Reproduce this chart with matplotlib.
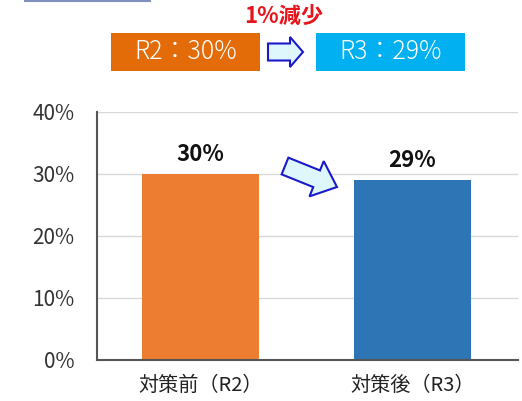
import matplotlib
matplotlib.use("Agg")
import matplotlib.pyplot as plt
from matplotlib.patches import Rectangle, FancyArrow
from matplotlib.ticker import PercentFormatter

categories = ["対策前（R2）", "対策後（R3）"]
values = [30, 29]
bar_colors = ["#ED7D31", "#2E75B6"]
value_labels = ["30%", "29%"]
yticks = [0, 10, 20, 30, 40]

plt.rcParams["font.family"] = ["Noto Sans CJK JP", "DejaVu Sans"]

W, H = 522, 401
fig = plt.figure(figsize=(W / 100, H / 100), dpi=100)
ax = fig.add_axes([97 / W, 1 - 360 / H, 421 / W, 248 / H])

x = range(len(categories))
ax.bar(x, values, width=0.555, color=bar_colors, zorder=2)
for xi, v, lab in zip(x, values, value_labels):
    ax.text(xi, v + 1.3, lab, ha="center", va="bottom",
            fontsize=16, fontweight="bold", color="#111111")

ax.set_xlim(-0.49, 1.5)
ax.set_ylim(0, 40)
ax.set_yticks(yticks)
ax.yaxis.set_major_formatter(PercentFormatter(decimals=0))
ax.set_xticks(list(x))
ax.set_xticklabels(categories, fontsize=14.5)
ax.tick_params(axis="y", labelsize=15, length=0, pad=16, colors="#333333")
ax.tick_params(axis="x", length=0, pad=11, colors="#222222")
ax.grid(axis="y", color="#D9D9D9", linewidth=1, zorder=0)
for s in ["top", "right"]:
    ax.spines[s].set_visible(False)
ax.spines["left"].set_color("#555555")
ax.spines["bottom"].set_color("#555555")
ax.spines["left"].set_linewidth(1.5)
ax.spines["bottom"].set_linewidth(1.5)

# overlay in pixel units for the annotation boxes and arrows
ov = fig.add_axes([0, 0, 1, 1], zorder=5)
ov.set_xlim(0, W)
ov.set_ylim(H, 0)
ov.axis("off")

ov.plot([25, 150], [1, 1], color="#7F8FC0", linewidth=1.5)

ov.text(284, 16, "1%減少", ha="center", va="center", fontsize=16,
        fontweight="bold", color="#E8141B")

ov.add_patch(Rectangle((111, 33), 149, 38, facecolor="#E36C09", edgecolor="none"))
ov.text(185.5, 52, "R2：30%", ha="center", va="center", fontsize=18,
        fontweight="light", color="white")
ov.add_patch(Rectangle((316, 33), 149, 38, facecolor="#00B0F0", edgecolor="none"))
ov.text(390.5, 52, "R3：29%", ha="center", va="center", fontsize=18,
        fontweight="light", color="white")

ov.add_patch(FancyArrow(268, 52, 35, 0, width=17, head_width=30, head_length=13,
                        length_includes_head=True, facecolor="#DDF7FC",
                        edgecolor="#1A1ACC", linewidth=1.5))
ov.add_patch(FancyArrow(285, 166, 52, 21, width=18, head_width=38, head_length=22,
                        length_includes_head=True, facecolor="#DDF7FC",
                        edgecolor="#1A1ACC", linewidth=1.5))

fig.savefig("out.png", dpi=100)
